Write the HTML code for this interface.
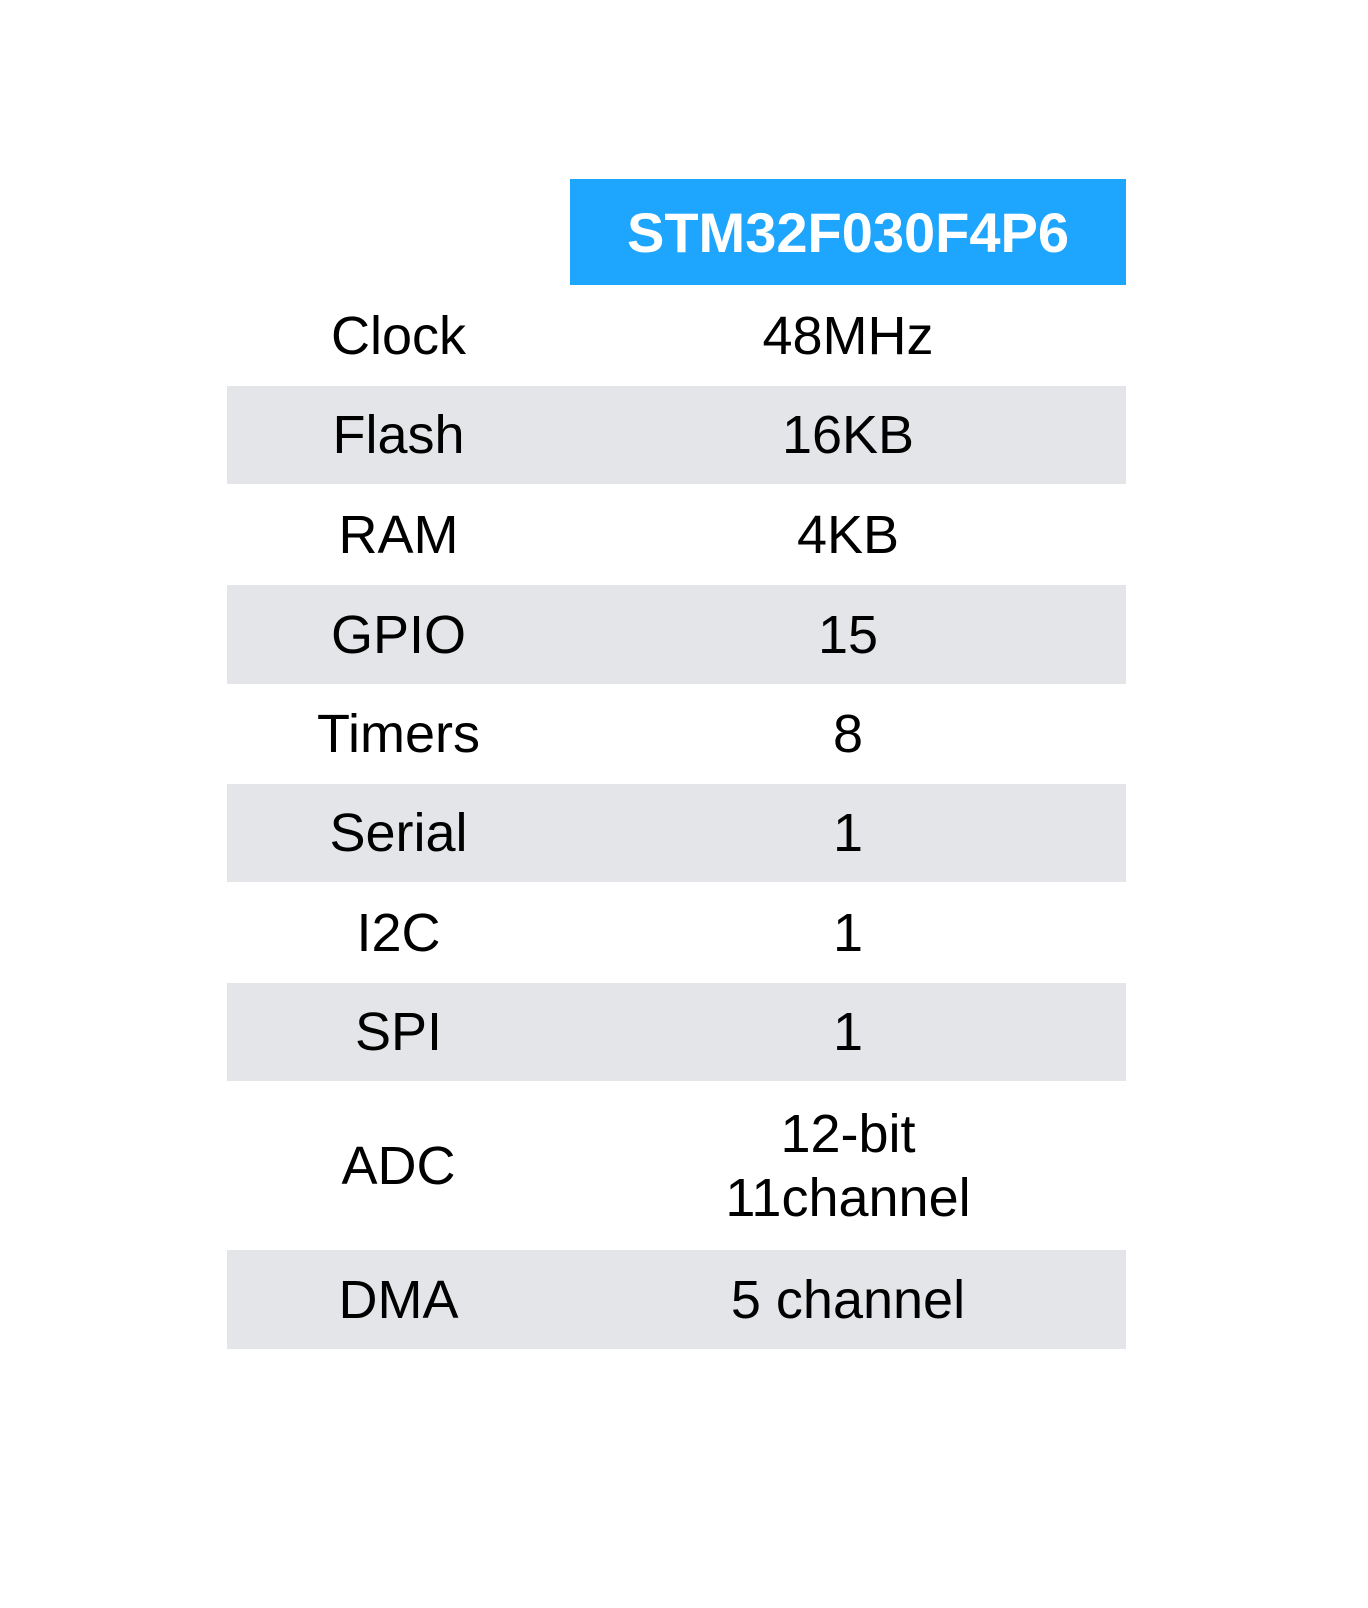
<!DOCTYPE html>
<html><head><meta charset="utf-8"><style>
body{margin:0;width:1368px;height:1608px;background:#fff;position:relative;overflow:hidden;font-family:"Liberation Sans",Arial,sans-serif;color:#000}
.r{position:absolute;left:227px;width:899px;display:flex;align-items:center}
.g{background:#e4e5e9}
.l{width:343px;text-align:center;font-size:54px}
.v{width:556px;text-align:center;font-size:54px;line-height:64px}
.h{position:absolute;left:570px;top:179px;width:556px;height:106px;background:#1ea5fd;color:#fff;font-weight:bold;font-size:56px;display:flex;align-items:center;justify-content:center}
</style></head><body>
<div class="h">STM32F030F4P6</div>
<div class="r" style="top:285px;height:101px"><div class="l">Clock</div><div class="v">48MHz</div></div>
<div class="r g" style="top:386px;height:98px"><div class="l">Flash</div><div class="v">16KB</div></div>
<div class="r" style="top:484px;height:101px"><div class="l">RAM</div><div class="v">4KB</div></div>
<div class="r g" style="top:585px;height:99px"><div class="l">GPIO</div><div class="v">15</div></div>
<div class="r" style="top:684px;height:100px"><div class="l">Timers</div><div class="v">8</div></div>
<div class="r g" style="top:784px;height:98px"><div class="l">Serial</div><div class="v">1</div></div>
<div class="r" style="top:882px;height:101px"><div class="l">I2C</div><div class="v">1</div></div>
<div class="r g" style="top:983px;height:98px"><div class="l">SPI</div><div class="v">1</div></div>
<div class="r" style="top:1081px;height:169px"><div class="l">ADC</div><div class="v">12-bit<br>11channel</div></div>
<div class="r g" style="top:1250px;height:99px"><div class="l">DMA</div><div class="v">5 channel</div></div>
</body></html>
